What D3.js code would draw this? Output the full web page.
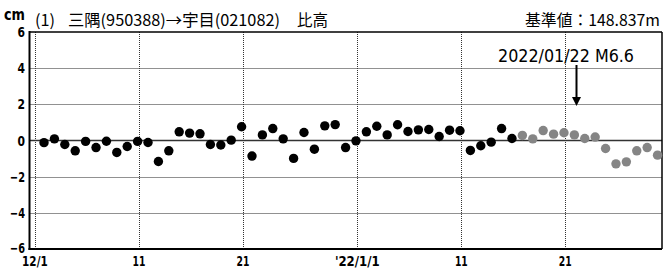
<!DOCTYPE html>
<html><head><meta charset="utf-8">
<script src="https://cdn.jsdelivr.net/npm/d3@7/dist/d3.min.js"></script>
<style>
html,body{margin:0;padding:0;background:#fff;}
svg{display:block;}
.lat{font-family:"Liberation Sans Narrow","DejaVu Sans Condensed","Liberation Sans",sans-serif;}
.cjk{font-family:"Noto Sans CJK JP","Noto Sans",sans-serif;}
</style></head>
<body>
<svg id="c" width="663" height="268"></svg>
<script>
// ---- data ----
const dates = [
 "2021-12-01","2021-12-02","2021-12-03","2021-12-04","2021-12-05","2021-12-06","2021-12-07","2021-12-08","2021-12-09","2021-12-10",
 "2021-12-11","2021-12-12","2021-12-13","2021-12-14","2021-12-15","2021-12-16","2021-12-17","2021-12-18","2021-12-19","2021-12-20",
 "2021-12-21","2021-12-22","2021-12-23","2021-12-24","2021-12-25","2021-12-26","2021-12-27","2021-12-28","2021-12-29","2021-12-30",
 "2021-12-31","2022-01-01","2022-01-02","2022-01-03","2022-01-04","2022-01-05","2022-01-06","2022-01-07","2022-01-08","2022-01-09",
 "2022-01-10","2022-01-11","2022-01-12","2022-01-13","2022-01-14","2022-01-15","2022-01-16","2022-01-17","2022-01-18","2022-01-19",
 "2022-01-20","2022-01-21","2022-01-22","2022-01-23","2022-01-24","2022-01-25","2022-01-26","2022-01-27","2022-01-28","2022-01-29"
];
// final solutions (black)
const finalValues = [
 -0.12, 0.09, -0.22, -0.57, -0.05, -0.39, -0.04, -0.66, -0.33, -0.05,
 -0.11, -1.16, -0.57, 0.48, 0.41, 0.37, -0.22, -0.25, 0.02, 0.76,
 -0.86, 0.31, 0.66, 0.09, -0.99, 0.44, -0.48, 0.81, 0.88, -0.39,
 -0.02, 0.48, 0.79, 0.31, 0.87, 0.50, 0.59, 0.61, 0.22, 0.57,
 0.54, -0.55, -0.29, -0.09, 0.66, 0.11
];
// rapid solutions (gray)
const rapidValues = [0.28, 0.09, 0.55, 0.35, 0.43, 0.31, 0.11, 0.19, -0.44, -1.29, -1.18, -0.57, -0.39, -0.81];
const yTicks = [6, 4, 2, 0, -2, -4, -6];
const xTickDates = ["2021-12-01","2021-12-11","2021-12-21","2022-01-01","2022-01-11","2022-01-21"];
const xTickLabels = ["12/1","11","21","'22/1/1","11","21"];
const quakeDate = "2022-01-22T01:08:00";
const quakeLabel = "2022/01/22 M6.6";
const titleNo = "(1)";
const titleRoute = "三隅(950388)→宇目(021082)";
const titleKind = "比高";
const baseLabel = "基準値：148.837m";
const unitLabel = "cm";

// ---- layout ----
const L = 29.5, R = 662, T = 32, B = 249;
const parse = d3.isoParse;
const x = d3.scaleTime()
  .domain([parse("2021-11-30T11:30:00"), parse("2022-01-30T07:15:00")])
  .range([L, R]);
const y = d3.scaleLinear().domain([-6, 6]).range([B, T]);
const svg = d3.select("#c");

const pts = dates.map((d, i) => {
  const t = parse(d + "T21:00:00");
  if (i < finalValues.length) return {t, v: finalValues[i], k: "f"};
  return {t, v: rapidValues[i - finalValues.length], k: "r"};
});

// grid
const g = svg.append("g");
g.selectAll("line.hg").data(yTicks.filter(v => v !== 0 && Math.abs(v) !== 6)).join("line")
  .attr("x1", L).attr("x2", R).attr("y1", d => Math.round(y(d)) + 0.5).attr("y2", d => Math.round(y(d)) + 0.5)
  .attr("stroke", "#222").attr("stroke-width", 1).attr("stroke-dasharray", "1,1");
g.selectAll("line.vg").data(xTickDates).join("line")
  .attr("x1", d => Math.round(x(parse(d))) + 0.5).attr("x2", d => Math.round(x(parse(d))) + 0.5)
  .attr("y1", T).attr("y2", B)
  .attr("stroke", "#333").attr("stroke-width", 1).attr("stroke-dasharray", "1,1");

// zero line
svg.append("line").attr("x1", L).attr("x2", R).attr("y1", y(0)).attr("y2", y(0))
  .attr("stroke", "#333").attr("stroke-width", 1.5);

// frame
svg.append("line").attr("x1", L).attr("x2", R).attr("y1", T).attr("y2", T).attr("stroke", "#000").attr("stroke-width", 1.5);
svg.append("line").attr("x1", R).attr("x2", R).attr("y1", T).attr("y2", B).attr("stroke", "#000").attr("stroke-width", 1.5);
svg.append("line").attr("x1", L).attr("x2", L).attr("y1", T - 1).attr("y2", B + 1).attr("stroke", "#000").attr("stroke-width", 2);
svg.append("line").attr("x1", L - 1).attr("x2", R).attr("y1", B).attr("y2", B).attr("stroke", "#000").attr("stroke-width", 2);

// y tick labels
const yLab = d => d < 0 ? "\u2212" + Math.abs(d) : String(d);
svg.append("g").selectAll("text").data(yTicks).join("text")
  .attr("class", "lat").attr("x", 25).attr("y", d => y(d) - (d === -6 ? 1.5 : 0)).attr("dy", "0.36em")
  .attr("text-anchor", "end").attr("font-size", 14).attr("font-weight", "bold")
  .attr("textLength", d => yLab(d).length * 7.5).attr("lengthAdjust", "spacingAndGlyphs")
  .text(yLab);

// x tick labels
svg.append("g").selectAll("text").data(xTickDates).join("text")
  .attr("class", "lat").attr("x", d => x(parse(d))).attr("y", 266)
  .attr("text-anchor", "middle").attr("font-size", 14).attr("font-weight", "bold")
  .attr("textLength", (d, i) => xTickLabels[i].length * 6.4).attr("lengthAdjust", "spacingAndGlyphs")
  .text((d, i) => xTickLabels[i]);

// points
svg.append("g").selectAll("circle").data(pts).join("circle")
  .attr("cx", d => x(d.t)).attr("cy", d => y(d.v)).attr("r", 4.7)
  .attr("fill", d => d.k === "f" ? "#000" : "#858585");

// quake annotation
const qx = Math.round(x(parse(quakeDate))) + 0.5;
svg.append("line").attr("x1", qx).attr("x2", qx).attr("y1", 65).attr("y2", 100)
  .attr("stroke", "#000").attr("stroke-width", 2);
svg.append("path").attr("d", `M${qx - 4.5},97 L${qx + 4.5},97 L${qx},106 Z`).attr("fill", "#000");
svg.append("text").attr("class", "lat").attr("x", 498).attr("y", 62)
  .attr("font-size", 18).attr("textLength", 136).attr("lengthAdjust", "spacingAndGlyphs")
  .text(quakeLabel);

// titles
svg.append("text").attr("class", "lat").attr("x", 4).attr("y", 20).attr("font-size", 15)
  .attr("font-weight", "bold").attr("textLength", 21).attr("lengthAdjust", "spacingAndGlyphs").text(unitLabel);
svg.append("text").attr("class", "cjk").attr("x", 35).attr("y", 26).attr("font-size", 16)
  .attr("textLength", 20).attr("lengthAdjust", "spacingAndGlyphs").text(titleNo);
svg.append("text").attr("class", "cjk").attr("x", 68).attr("y", 26).attr("font-size", 16)
  .attr("textLength", 212).attr("lengthAdjust", "spacingAndGlyphs").text(titleRoute);
svg.append("text").attr("class", "cjk").attr("x", 297).attr("y", 26).attr("font-size", 16)
  .attr("textLength", 31).attr("lengthAdjust", "spacingAndGlyphs").text(titleKind);
svg.append("text").attr("class", "cjk").attr("x", 525).attr("y", 26).attr("font-size", 16)
  .attr("textLength", 135).attr("lengthAdjust", "spacingAndGlyphs").text(baseLabel);
</script>
</body></html>
